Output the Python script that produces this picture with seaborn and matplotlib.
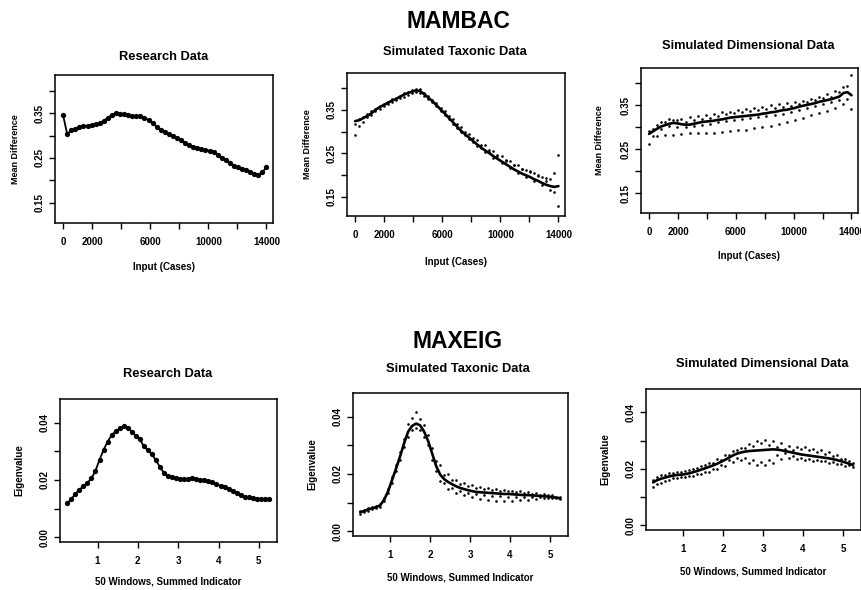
import matplotlib
matplotlib.use("Agg")
import matplotlib.pyplot as plt
import seaborn as sns
import numpy as np

# ---- data ----
# MAMBAC: input cases
mam_x = np.arange(0, 14001, 280)
mam_rep_x = np.arange(0, 14001, 560)
mam_rep_x2 = np.arange(280, 14000, 560)

mam_research = [0.345, 0.303, 0.312, 0.315, 0.318, 0.321, 0.322, 0.323, 0.325, 0.328,
                0.333, 0.340, 0.346, 0.350, 0.349, 0.347, 0.345, 0.344, 0.343, 0.343,
                0.340, 0.334, 0.327, 0.320, 0.313, 0.308, 0.303, 0.299, 0.294, 0.289,
                0.284, 0.279, 0.275, 0.272, 0.270, 0.268, 0.266, 0.263, 0.256, 0.250,
                0.245, 0.239, 0.233, 0.229, 0.226, 0.223, 0.219, 0.214, 0.213, 0.218,
                0.230]

mam_tax_mean = [0.324, 0.326, 0.331, 0.336, 0.342, 0.350, 0.356, 0.361, 0.366, 0.371,
                0.375, 0.380, 0.385, 0.389, 0.392, 0.395, 0.393, 0.386, 0.378, 0.370,
                0.361, 0.351, 0.342, 0.332, 0.322, 0.312, 0.302, 0.294, 0.286, 0.278,
                0.270, 0.263, 0.256, 0.250, 0.243, 0.237, 0.231, 0.225, 0.219, 0.213,
                0.208, 0.203, 0.199, 0.195, 0.190, 0.186, 0.181, 0.177, 0.174, 0.172,
                0.174]
mam_tax_rep_a = [0.318, 0.334, 0.347, 0.359, 0.368, 0.378, 0.389, 0.396, 0.398, 0.383,
                 0.366, 0.347, 0.328, 0.310, 0.295, 0.281, 0.268, 0.256, 0.244, 0.233,
                 0.222, 0.212, 0.204, 0.196, 0.190, 0.245]
mam_tax_rep_b = [0.292, 0.322, 0.338, 0.352, 0.363, 0.372, 0.380, 0.388, 0.390, 0.375,
                 0.358, 0.338, 0.318, 0.299, 0.282, 0.266, 0.252, 0.239, 0.227, 0.215,
                 0.204, 0.195, 0.185, 0.176, 0.166, 0.128]
mam_tax_rep_c = [0.312, 0.340, 0.353, 0.358, 0.375, 0.383, 0.385, 0.398, 0.389, 0.373,
                 0.354, 0.336, 0.317, 0.300, 0.285, 0.270, 0.258, 0.246, 0.234, 0.223,
                 0.214, 0.206, 0.197, 0.186, 0.160]
mam_tax_rep_d = [0.330, 0.333, 0.347, 0.364, 0.368, 0.378, 0.392, 0.392, 0.383, 0.367,
                 0.348, 0.329, 0.309, 0.291, 0.276, 0.262, 0.253, 0.243, 0.233, 0.222,
                 0.214, 0.208, 0.200, 0.193, 0.205]

mam_dim_mean = [0.285, 0.291, 0.297, 0.302, 0.305, 0.308, 0.310, 0.309, 0.307, 0.306,
                0.306, 0.308, 0.310, 0.312, 0.313, 0.314, 0.315, 0.317, 0.318, 0.320,
                0.322, 0.323, 0.324, 0.325, 0.326, 0.327, 0.328, 0.329, 0.331, 0.332,
                0.334, 0.335, 0.337, 0.339, 0.340, 0.342, 0.344, 0.347, 0.349, 0.351,
                0.353, 0.355, 0.358, 0.360, 0.362, 0.364, 0.367, 0.370, 0.378, 0.380,
                0.373]
mam_dim_rep_a = [0.262, 0.280, 0.282, 0.283, 0.285, 0.286, 0.286, 0.287, 0.288, 0.289,
                 0.291, 0.293, 0.295, 0.298, 0.301, 0.304, 0.308, 0.312, 0.316, 0.321,
                 0.327, 0.333, 0.338, 0.345, 0.352, 0.342]
mam_dim_rep_b = [0.292, 0.305, 0.313, 0.317, 0.320, 0.323, 0.326, 0.329, 0.331, 0.334,
                 0.336, 0.339, 0.341, 0.344, 0.347, 0.350, 0.353, 0.355, 0.358, 0.361,
                 0.365, 0.369, 0.375, 0.382, 0.392, 0.418]
mam_dim_rep_c = [0.296, 0.312, 0.318, 0.316, 0.312, 0.317, 0.320, 0.322, 0.326, 0.330,
                 0.333, 0.334, 0.337, 0.339, 0.341, 0.344, 0.346, 0.349, 0.354, 0.357,
                 0.362, 0.366, 0.370, 0.380, 0.395]
mam_dim_rep_d = [0.280, 0.296, 0.302, 0.301, 0.300, 0.303, 0.305, 0.308, 0.311, 0.314,
                 0.317, 0.320, 0.321, 0.323, 0.326, 0.328, 0.331, 0.335, 0.339, 0.344,
                 0.349, 0.354, 0.358, 0.362, 0.365]

# MAXEIG: summed indicator windows
mx_x = np.arange(0.25, 5.26, 0.1)
mx_rep_x = np.arange(0.25, 5.26, 0.2)
mx_rep_x2 = np.arange(0.35, 5.2, 0.2)

mx_research = [0.0118, 0.0133, 0.0151, 0.0166, 0.0178, 0.0190, 0.0206, 0.0232, 0.0271, 0.0305,
               0.0334, 0.0356, 0.0370, 0.0380, 0.0387, 0.0383, 0.0368, 0.0354, 0.0342, 0.0317,
               0.0304, 0.0290, 0.0268, 0.0245, 0.0224, 0.0213, 0.0210, 0.0206, 0.0204, 0.0204,
               0.0203, 0.0207, 0.0203, 0.0200, 0.0199, 0.0196, 0.0192, 0.0185, 0.0179, 0.0177,
               0.0170, 0.0161, 0.0153, 0.0147, 0.0141, 0.0139, 0.0136, 0.0134, 0.0134, 0.0133,
               0.0135]

mx_tax_mean = [0.0066, 0.0070, 0.0076, 0.0080, 0.0084, 0.0090, 0.0110, 0.0140, 0.0180, 0.0220,
               0.0262, 0.0308, 0.0348, 0.0368, 0.0376, 0.0370, 0.0348, 0.0315, 0.0272, 0.0228,
               0.0198, 0.0182, 0.0172, 0.0164, 0.0157, 0.0151, 0.0147, 0.0143, 0.0140, 0.0137,
               0.0136, 0.0135, 0.0134, 0.0133, 0.0132, 0.0131, 0.0130, 0.0130, 0.0129, 0.0128,
               0.0127, 0.0126, 0.0126, 0.0125, 0.0124, 0.0123, 0.0122, 0.0121, 0.0119, 0.0117,
               0.0115]
mx_tax_rep_a = [0.0060, 0.0080, 0.0088, 0.0115, 0.0190, 0.0278, 0.0375, 0.0418, 0.0372, 0.0290,
                0.0230, 0.0200, 0.0180, 0.0168, 0.0160, 0.0155, 0.0152, 0.0148, 0.0145, 0.0142,
                0.0140, 0.0136, 0.0133, 0.0130, 0.0126, 0.0118]
mx_tax_rep_b = [0.0072, 0.0072, 0.0080, 0.0105, 0.0170, 0.0250, 0.0330, 0.0360, 0.0330, 0.0250,
                0.0175, 0.0148, 0.0135, 0.0125, 0.0118, 0.0113, 0.0110, 0.0107, 0.0106, 0.0106,
                0.0108, 0.0110, 0.0114, 0.0116, 0.0117, 0.0113]
mx_tax_rep_c = [0.0068, 0.0084, 0.0095, 0.0148, 0.0232, 0.0322, 0.0395, 0.0392, 0.0335, 0.0245,
                0.0198, 0.0178, 0.0165, 0.0157, 0.0150, 0.0147, 0.0145, 0.0141, 0.0139, 0.0136,
                0.0133, 0.0131, 0.0128, 0.0125, 0.0120]
mx_tax_rep_d = [0.0074, 0.0077, 0.0086, 0.0132, 0.0210, 0.0295, 0.0352, 0.0355, 0.0300, 0.0212,
                0.0168, 0.0152, 0.0142, 0.0134, 0.0129, 0.0126, 0.0124, 0.0122, 0.0121, 0.0120,
                0.0119, 0.0118, 0.0118, 0.0117, 0.0115]

mx_dim_mean = [0.0152, 0.0160, 0.0165, 0.0169, 0.0173, 0.0176, 0.0178, 0.0179, 0.0181, 0.0184,
               0.0188, 0.0192, 0.0197, 0.0202, 0.0207, 0.0212, 0.0218, 0.0225, 0.0232, 0.0240,
               0.0248, 0.0254, 0.0258, 0.0261, 0.0263, 0.0264, 0.0265, 0.0266, 0.0267, 0.0268,
               0.0269, 0.0268, 0.0266, 0.0263, 0.0260, 0.0257, 0.0254, 0.0251, 0.0249, 0.0247,
               0.0245, 0.0243, 0.0241, 0.0239, 0.0237, 0.0234, 0.0231, 0.0227, 0.0223, 0.0218,
               0.0213]
mx_dim_rep_a = [0.0160, 0.0178, 0.0186, 0.0190, 0.0193, 0.0200, 0.0210, 0.0222, 0.0234, 0.0248,
                0.0262, 0.0275, 0.0288, 0.0298, 0.0303, 0.0300, 0.0290, 0.0282, 0.0278, 0.0276,
                0.0272, 0.0266, 0.0258, 0.0248, 0.0236, 0.0222]
mx_dim_rep_b = [0.0135, 0.0150, 0.0160, 0.0166, 0.0170, 0.0175, 0.0182, 0.0190, 0.0198, 0.0210,
                0.0225, 0.0230, 0.0222, 0.0215, 0.0212, 0.0220, 0.0235, 0.0240, 0.0236, 0.0230,
                0.0228, 0.0226, 0.0222, 0.0216, 0.0210, 0.0205]
mx_dim_rep_c = [0.0170, 0.0178, 0.0185, 0.0190, 0.0196, 0.0204, 0.0212, 0.0222, 0.0233, 0.0250,
                0.0266, 0.0275, 0.0282, 0.0290, 0.0285, 0.0278, 0.0270, 0.0268, 0.0270, 0.0265,
                0.0258, 0.0252, 0.0245, 0.0236, 0.0226]
mx_dim_rep_d = [0.0145, 0.0158, 0.0167, 0.0172, 0.0176, 0.0182, 0.0190, 0.0198, 0.0215, 0.0230,
                0.0240, 0.0238, 0.0230, 0.0225, 0.0230, 0.0248, 0.0255, 0.0245, 0.0238, 0.0235,
                0.0232, 0.0228, 0.0224, 0.0218, 0.0212]

mam_xticks = [0, 2000, 4000, 6000, 8000, 10000, 12000, 14000]
mam_xticklabels = ["0", "2000", "", "6000", "", "10000", "", "14000"]
mam_yticks = [0.15, 0.20, 0.25, 0.30, 0.35, 0.40]
mam_yticklabels = ["0.15", "", "0.25", "", "0.35", ""]
mx_xticks = [1, 2, 3, 4, 5]
mx_yticks = [0.00, 0.01, 0.02, 0.03, 0.04]
mx_yticklabels = ["0.00", "", "0.02", "", "0.04"]

sub_titles = ["Research Data", "Simulated Taxonic Data", "Simulated Dimensional Data"]

# ---- style ----
sns.set_style("ticks")
plt.rcParams["font.family"] = ["Liberation Sans", "DejaVu Sans"]
plt.rcParams["font.weight"] = "bold"
plt.rcParams["axes.labelweight"] = "bold"
plt.rcParams["text.color"] = "black"
plt.rcParams["axes.labelcolor"] = "black"
plt.rcParams["axes.edgecolor"] = "black"

W, H = 861, 590
fig = plt.figure(figsize=(W / 100, H / 100), dpi=100)

# panel boxes in pixels: left, top, right, bottom
boxes = [(55, 75, 273, 223), (347, 73, 565, 216), (641, 68, 858, 213),
         (60, 399, 277, 542), (353, 393, 568, 536), (646, 389, 861, 530)]
title_pos = [(164, 57), (455, 52), (748, 46), (168, 374), (458, 369), (762, 364)]
xlab_off = [44, 46, 43, 39, 42, 41]
ylab_off = [40, 39, 42, 41, 41, 41]

axes = []
for i, (l, t, r, b) in enumerate(boxes):
    ax = fig.add_axes([l / W, 1 - b / H, (r - l) / W, (b - t) / H])
    axes.append(ax)


def draw_research(ax, x, y):
    sns.lineplot(x=x, y=y, ax=ax, color="black", linewidth=1.3, marker="o",
                 markersize=3.8, markeredgewidth=0)


def draw_sim(ax, x, mean, xr, reps_a, xr2, reps_b):
    for r in reps_a:
        sns.scatterplot(x=xr, y=r, ax=ax, color="black", s=3.5, linewidth=0)
    for r in reps_b:
        sns.scatterplot(x=xr2, y=r, ax=ax, color="black", s=3.5, linewidth=0)
    sns.lineplot(x=x, y=mean, ax=ax, color="black", linewidth=1.9)


draw_research(axes[0], mam_x, mam_research)
draw_sim(axes[1], mam_x, mam_tax_mean, mam_rep_x, [mam_tax_rep_a, mam_tax_rep_b],
         mam_rep_x2, [mam_tax_rep_c, mam_tax_rep_d])
draw_sim(axes[2], mam_x, mam_dim_mean, mam_rep_x, [mam_dim_rep_a, mam_dim_rep_b],
         mam_rep_x2, [mam_dim_rep_c, mam_dim_rep_d])
draw_research(axes[3], mx_x, mx_research)
draw_sim(axes[4], mx_x, mx_tax_mean, mx_rep_x, [mx_tax_rep_a, mx_tax_rep_b],
         mx_rep_x2, [mx_tax_rep_c, mx_tax_rep_d])
draw_sim(axes[5], mx_x, mx_dim_mean, mx_rep_x, [mx_dim_rep_a, mx_dim_rep_b],
         mx_rep_x2, [mx_dim_rep_c, mx_dim_rep_d])

for i, ax in enumerate(axes):
    l, t, r, b = boxes[i]
    if i < 3:
        ax.set_xlim(-560, 14450)
        ax.set_ylim(0.105, 0.435)
        ax.set_xticks(mam_xticks)
        ax.set_xticklabels(mam_xticklabels)
        ax.set_yticks(mam_yticks)
        ax.set_yticklabels(mam_yticklabels)
        ax.set_xlabel("Input (Cases)", fontsize=7)
        ax.set_ylabel("Mean Difference", fontsize=6.5)
    else:
        ax.set_xlim(0.07, 5.45)
        ax.set_ylim(-0.0017, 0.0483)
        ax.set_xticks(mx_xticks)
        ax.set_xticklabels([str(v) for v in mx_xticks])
        ax.set_yticks(mx_yticks)
        ax.set_yticklabels(mx_yticklabels)
        ax.set_xlabel("50 Windows, Summed Indicator", fontsize=7)
        ax.set_ylabel("Eigenvalue", fontsize=7)
    ax.tick_params(direction="out", length=4, width=1, colors="black", labelsize=7)
    ax.tick_params(axis="x", pad=6)
    ax.tick_params(axis="y", pad=3.5, labelrotation=90)
    for lab in ax.get_yticklabels():
        lab.set_va("center")
    for sp in ax.spines.values():
        sp.set_linewidth(1.1)
        sp.set_color("black")
    ax.xaxis.set_label_coords(0.5, -xlab_off[i] / (b - t))
    ax.xaxis.label.set_va("center")
    ax.yaxis.set_label_coords(-ylab_off[i] / (r - l), 0.5)
    ax.yaxis.label.set_va("center")
    tx, ty = title_pos[i]
    fig.text(tx / W, 1 - ty / H, sub_titles[i % 3], ha="center", va="center",
             fontsize=9.3, fontweight="bold")

fig.text(458 / W, 1 - 22 / H, "MAMBAC", ha="center", va="center", fontsize=16.5, fontweight="bold")
fig.text(458 / W, 1 - 342 / H, "MAXEIG", ha="center", va="center", fontsize=16.5, fontweight="bold")

fig.savefig("out.png", dpi=100)
